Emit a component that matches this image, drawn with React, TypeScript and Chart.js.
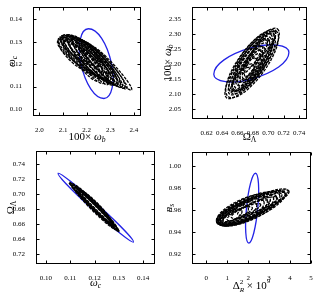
import React, { useEffect, useRef } from "react";
import { Chart, registerables } from "chart.js";
Chart.register(...registerables);

type Pt = [number, number];
type Ell = Pt[]; // four conjugate points: +p, +q, -p, -q

// ---------- Panel 1 (top-left): omega_c vs 100*omega_b ----------
const tlXTicks = [2.0, 2.1, 2.2, 2.3, 2.4];
const tlXLabels = ["2.0", "2.1", "2.2", "2.3", "2.4"];
const tlYTicks = [0.1, 0.11, 0.12, 0.13, 0.14];
const tlYLabels = ["0.10", "0.11", "0.12", "0.13", "0.14"];
const tlBlue: Ell = [[2.207, 0.1358], [2.305, 0.12025], [2.273, 0.1047], [2.175, 0.12025]];
const tlBlack: Ell[] = [
  [[2.25, 0.117], [2.1843, 0.12605], [2.078, 0.1305], [2.1437, 0.12145]],
  [[2.268, 0.115], [2.1982, 0.126], [2.082, 0.1318], [2.1518, 0.1208]],
  [[2.285, 0.114], [2.2107, 0.12585], [2.09, 0.1325], [2.1643, 0.12065]],
  [[2.3, 0.113], [2.2232, 0.1255], [2.1, 0.1328], [2.1768, 0.1203]],
  [[2.315, 0.112], [2.2382, 0.125], [2.115, 0.1328], [2.1918, 0.1198]],
  [[2.33, 0.1108], [2.2528, 0.1238], [2.135, 0.1322], [2.2122, 0.1192]],
  [[2.35, 0.1098], [2.2724, 0.12245], [2.16, 0.1312], [2.2376, 0.11855]],
  [[2.37, 0.109], [2.2945, 0.12103], [2.19, 0.1298], [2.2655, 0.11777]],
  [[2.39, 0.1085], [2.3166, 0.11955], [2.22, 0.128], [2.2934, 0.11695]],
  [[2.26, 0.116], [2.2015, 0.12685], [2.085, 0.1312], [2.1435, 0.12035]],
  [[2.29, 0.1135], [2.2215, 0.1261], [2.095, 0.1322], [2.1635, 0.1196]],
  [[2.31, 0.1125], [2.2336, 0.12548], [2.105, 0.1326], [2.1814, 0.11962]],
  [[2.325, 0.1115], [2.2486, 0.12498], [2.12, 0.1326], [2.1964, 0.11912]],
  [[2.34, 0.1105], [2.2632, 0.12375], [2.14, 0.1318], [2.2168, 0.11855]],
  [[2.36, 0.1095], [2.2853, 0.12228], [2.17, 0.1305], [2.2447, 0.11772]],
  [[2.25, 0.1125], [2.1956, 0.12373], [2.1, 0.1318], [2.1544, 0.12057]],
  [[2.27, 0.1115], [2.2156, 0.12343], [2.12, 0.1322], [2.1744, 0.12027]],
  [[2.29, 0.111], [2.2356, 0.12298], [2.14, 0.1318], [2.1944, 0.11982]],
  [[2.31, 0.1108], [2.2556, 0.12248], [2.16, 0.131], [2.2144, 0.11932]],
  [[2.33, 0.1108], [2.2756, 0.12198], [2.18, 0.13], [2.2344, 0.11882]],
  [[2.2, 0.1215], [2.1616, 0.12705], [2.1, 0.13], [2.1384, 0.12445]],
  [[2.25, 0.119], [2.2016, 0.1253], [2.13, 0.129], [2.1784, 0.1227]],
  [[2.29, 0.116], [2.2416, 0.1228], [2.17, 0.127], [2.2184, 0.1202]],
  [[2.23, 0.1195], [2.1745, 0.12698], [2.09, 0.1312], [2.1455, 0.12372]],
];

// ---------- Panel 2 (top-right): 100*omega_b vs Omega_Lambda ----------
const trXTicks = [0.62, 0.64, 0.66, 0.68, 0.7, 0.72, 0.74];
const trXLabels = ["0.62", "0.64", "0.66", "0.68", "0.70", "0.72", "0.74"];
const trYTicks = [2.05, 2.1, 2.15, 2.2, 2.25, 2.3, 2.35];
const trYLabels = ["2.05", "2.10", "2.15", "2.20", "2.25", "2.30", "2.35"];
const trBlue: Ell = [[0.7268, 2.2392], [0.678, 2.2554], [0.6292, 2.1668], [0.678, 2.1506]];
const trBlack: Ell[] = [
  [[0.712, 2.318], [0.6915, 2.1793], [0.646, 2.088], [0.6665, 2.2267]],
  [[0.706, 2.3], [0.6885, 2.1802], [0.65, 2.1], [0.6675, 2.2198]],
  [[0.7, 2.285], [0.6869, 2.1807], [0.655, 2.112], [0.6681, 2.2163]],
  [[0.703, 2.3], [0.692, 2.1883], [0.658, 2.12], [0.669, 2.2318]],
  [[0.698, 2.27], [0.6884, 2.1842], [0.662, 2.13], [0.6716, 2.2158]],
  [[0.694, 2.258], [0.6868, 2.1852], [0.665, 2.14], [0.6722, 2.2128]],
  [[0.691, 2.245], [0.6858, 2.1856], [0.668, 2.15], [0.6732, 2.2094]],
  [[0.689, 2.235], [0.6842, 2.1886], [0.67, 2.16], [0.6748, 2.2064]],
  [[0.709, 2.31], [0.6878, 2.1962], [0.652, 2.11], [0.6732, 2.2238]],
  [[0.71, 2.312], [0.6936, 2.1743], [0.648, 2.092], [0.6644, 2.2297]],
  [[0.706, 2.305], [0.6926, 2.1793], [0.652, 2.105], [0.6654, 2.2307]],
  [[0.702, 2.29], [0.6915, 2.1788], [0.656, 2.115], [0.6665, 2.2262]],
  [[0.7, 2.28], [0.6905, 2.1852], [0.66, 2.13], [0.6695, 2.2248]],
  [[0.692, 2.26], [0.6832, 2.1951], [0.664, 2.15], [0.6728, 2.2149]],
  [[0.69, 2.25], [0.6816, 2.2041], [0.667, 2.17], [0.6754, 2.2159]],
  [[0.684, 2.22], [0.6772, 2.1701], [0.66, 2.14], [0.6668, 2.1899]],
  [[0.698, 2.28], [0.6902, 2.2251], [0.672, 2.19], [0.6798, 2.2449]],
  [[0.68, 2.2], [0.6733, 2.1431], [0.654, 2.11], [0.6607, 2.1669]],
  [[0.708, 2.31], [0.7003, 2.2531], [0.68, 2.22], [0.6877, 2.2769]],
];

// ---------- Panel 3 (bottom-left): Omega_Lambda vs omega_c ----------
const blXTicks = [0.1, 0.11, 0.12, 0.13, 0.14];
const blXLabels = ["0.10", "0.11", "0.12", "0.13", "0.14"];
const blYTicks = [0.62, 0.64, 0.66, 0.68, 0.7, 0.72, 0.74];
const blYLabels = ["0.72", "0.64", "0.66", "0.68", "0.70", "0.72", "0.74"];
const blBlue: Ell = [[0.136, 0.636], [0.12147, 0.68546], [0.105, 0.728], [0.11953, 0.67854]];
const blBlack: Ell[] = [
  [[0.13, 0.65], [0.12048, 0.68538], [0.1095, 0.716], [0.11902, 0.68063]],
  [[0.1285, 0.656], [0.12062, 0.68685], [0.111, 0.712], [0.11888, 0.68115]],
  [[0.127, 0.661], [0.12087, 0.68635], [0.113, 0.706], [0.11913, 0.68065]],
  [[0.1295, 0.652], [0.12133, 0.6824], [0.112, 0.709], [0.12017, 0.6786]],
  [[0.126, 0.664], [0.12123, 0.68438], [0.115, 0.7], [0.11977, 0.67963]],
  [[0.1295, 0.652], [0.12116, 0.6868], [0.1105, 0.714], [0.11884, 0.6792]],
  [[0.128, 0.658], [0.12102, 0.68733], [0.112, 0.71], [0.11899, 0.68068]],
  [[0.1265, 0.663], [0.12141, 0.6873], [0.114, 0.704], [0.11909, 0.6797]],
  [[0.13, 0.651], [0.12094, 0.68293], [0.111, 0.712], [0.12007, 0.68008]],
  [[0.128, 0.657], [0.12079, 0.68295], [0.113, 0.707], [0.12021, 0.68105]],
  [[0.1275, 0.659], [0.11933, 0.6884], [0.11, 0.714], [0.11817, 0.6846]],
  [[0.13, 0.651], [0.12233, 0.6799], [0.1135, 0.705], [0.12117, 0.6761]],
];

// ---------- Panel 4 (bottom-right): n_s vs Delta^2_R x 1e9 ----------
const brXTicks = [0, 1, 2, 3, 4, 5];
const brXLabels = ["0", "1", "2", "3", "4", "5"];
const brYTicks = [0.92, 0.94, 0.96, 0.98, 1.0];
const brYLabels = ["0.92", "0.94", "0.96", "0.98", "1.00"];
const brBlue: Ell = [[2.35, 0.99315], [2.46, 0.9615], [2.03, 0.92985], [1.92, 0.9615]];
const brBlack: Ell[] = [
  [[2.0, 0.962], [1.3937, 0.94976], [0.5, 0.949], [1.1063, 0.96124]],
  [[2.4, 0.965], [1.6242, 0.95019], [0.52, 0.9485], [1.2958, 0.96331]],
  [[2.75, 0.9675], [1.8348, 0.95037], [0.55, 0.948], [1.4652, 0.96513]],
  [[3.05, 0.97], [1.9998, 0.95162], [0.58, 0.948], [1.6302, 0.96638]],
  [[3.35, 0.972], [2.1698, 0.95262], [0.62, 0.948], [1.8002, 0.96738]],
  [[3.6, 0.974], [2.3148, 0.95372], [0.66, 0.9482], [1.9452, 0.96848]],
  [[3.8, 0.9755], [2.4142, 0.95544], [0.7, 0.9485], [2.0858, 0.96856]],
  [[3.95, 0.977], [2.4937, 0.95726], [0.75, 0.949], [2.2063, 0.96874]],
  [[3.2, 0.9715], [2.0758, 0.95098], [0.5, 0.9485], [1.6242, 0.96902]],
  [[3.5, 0.9735], [2.2758, 0.95183], [0.6, 0.9482], [1.8242, 0.96987]],
  [[2.9, 0.969], [1.9303, 0.95055], [0.55, 0.9485], [1.5197, 0.96695]],
  [[3.75, 0.975], [2.4303, 0.9537], [0.7, 0.9488], [2.0197, 0.9701]],
  [[3.9, 0.9775], [2.5142, 0.95694], [0.8, 0.9495], [2.1858, 0.97006]],
  [[2.2, 0.962], [1.4821, 0.95222], [0.6, 0.949], [1.3179, 0.95878]],
  [[2.6, 0.965], [1.7821, 0.95422], [0.8, 0.95], [1.6179, 0.96078]],
  [[3.0, 0.968], [2.1027, 0.9554], [1.0, 0.951], [1.8973, 0.9636]],
  [[3.4, 0.971], [2.4027, 0.9579], [1.2, 0.953], [2.1973, 0.9661]],
  [[1.7, 0.959], [1.2277, 0.95015], [0.55, 0.9495], [1.0223, 0.95835]],
  [[3.8, 0.975], [2.7527, 0.9614], [1.5, 0.956], [2.5473, 0.9696]],
];

// ---------- styling / layout ----------
const SERIF = '"Liberation Serif", "DejaVu Serif", serif';
const BLUE = "#2323e6";
const W = 160;
const H = 150;

interface Part { t: string; it?: boolean; dy?: number; s?: number; stay?: boolean }

interface PanelCfg {
  left: number; top: number;
  frame: { l: number; t: number; r: number; b: number };
  xMin: number; xMax: number; yMin: number; yMax: number;
  xTicks: number[]; xLabels: string[]; yTicks: number[]; yLabels: string[];
  blue: Ell; black: Ell[];
  xTitle: Part[]; yTitle: Part[]; xTitleDy: number; yTitleDx: number;
}

const omegaB: Part[] = [{ t: "100\u00d7 " }, { t: "\u03c9", it: true }, { t: "b", it: true, s: 0.7, dy: 0.3 }];
const omegaC: Part[] = [{ t: "\u03c9", it: true }, { t: "c", it: true, s: 0.7, dy: 0.3 }];
const omegaL: Part[] = [{ t: "\u03a9" }, { t: "\u039b", s: 0.7, dy: 0.3 }];
const deltaR: Part[] = [
  { t: "\u0394" },
  { t: "2", s: 0.65, dy: -0.35, stay: true },
  { t: "R", it: true, s: 0.65, dy: 0.35 },
  { t: " \u00d7 10" },
  { t: "9", s: 0.65, dy: -0.4 },
];
const nS: Part[] = [{ t: "n", it: true }, { t: "s", it: true, s: 0.7, dy: 0.3 }];

const panels: PanelCfg[] = [
  {
    left: 0, top: 0, frame: { l: 33, t: 7, r: 141, b: 116 },
    xMin: 1.9725, xMax: 2.4297, yMin: 0.0969, yMax: 0.1455,
    xTicks: tlXTicks, xLabels: tlXLabels, yTicks: tlYTicks, yLabels: tlYLabels,
    blue: tlBlue, black: tlBlack, xTitle: omegaB, yTitle: omegaC, xTitleDy: 21, yTitleDx: 21,
  },
  {
    left: 160, top: 0, frame: { l: 32, t: 7, r: 147, b: 119 },
    xMin: 0.6009, xMax: 0.7503, yMin: 2.0177, yMax: 2.391,
    xTicks: trXTicks, xLabels: trXLabels, yTicks: trYTicks, yLabels: trYLabels,
    blue: trBlue, black: trBlack, xTitle: omegaL, yTitle: omegaB, xTitleDy: 18, yTitleDx: 24,
  },
  {
    left: 0, top: 150, frame: { l: 36, t: 1, r: 155, b: 114 },
    xMin: 0.0959, xMax: 0.1449, yMin: 0.6066, yMax: 0.7578,
    xTicks: blXTicks, xLabels: blXLabels, yTicks: blYTicks, yLabels: blYLabels,
    blue: blBlue, black: blBlack, xTitle: omegaC, yTitle: omegaL, xTitleDy: 19, yTitleDx: 25,
  },
  {
    left: 160, top: 150, frame: { l: 32, t: 2, r: 151, b: 114 },
    xMin: -0.68, xMax: 5.0, yMin: 0.9109, yMax: 1.0124,
    xTicks: brXTicks, xLabels: brXLabels, yTicks: brYTicks, yLabels: brYLabels,
    blue: brBlue, black: brBlack, xTitle: deltaR, yTitle: nS, xTitleDy: 22, yTitleDx: 23,
  },
];

function drawParts(ctx: CanvasRenderingContext2D, parts: Part[], cx: number, cy: number, size: number, rotate: boolean) {
  ctx.save();
  ctx.translate(cx, cy);
  if (rotate) ctx.rotate(-Math.PI / 2);
  const fontOf = (p: Part) => `${p.it ? "italic " : ""}${(p.s ?? 1) * size}px ${SERIF}`;
  let w = 0;
  for (const p of parts) {
    ctx.font = fontOf(p);
    if (!p.stay) w += ctx.measureText(p.t).width;
  }
  let x = -w / 2;
  ctx.textBaseline = "middle";
  ctx.textAlign = "left";
  ctx.fillStyle = "#000";
  for (const p of parts) {
    ctx.font = fontOf(p);
    ctx.fillText(p.t, x, (p.dy ?? 0) * size);
    if (!p.stay) x += ctx.measureText(p.t).width;
  }
  ctx.restore();
}

function ellDataset(e: Ell, color: string, dash: number[], width: number) {
  const seq = [e[3], e[0], e[1], e[2], e[3], e[0], e[1]];
  return {
    data: seq.map(([x, y]) => ({ x, y })),
    showLine: true,
    borderColor: color,
    borderWidth: width,
    borderDash: dash,
    pointRadius: 0,
    tension: 0.5523,
    fill: false,
    segment: {
      borderColor: (c: any) => (c.p0DataIndex === 0 || c.p0DataIndex === 5 ? "rgba(0,0,0,0)" : color),
    },
  };
}

function axisOpts(min: number, max: number, ticks: number[], labels: string[], fit: (s: any) => void, pad: number) {
  return {
    type: "linear",
    min,
    max,
    grid: { display: false },
    border: { display: false },
    ticks: {
      autoSkip: false,
      maxRotation: 0,
      minRotation: 0,
      padding: pad,
      color: "#000",
      font: { family: SERIF, size: 7 },
      callback: (_v: any, i: number) => labels[i],
    },
    afterBuildTicks: (s: any) => {
      s.ticks = ticks.map((v) => ({ value: v }));
    },
    afterFit: (s: any) => {
      fit(s);
      s.paddingLeft = 0;
      s.paddingRight = 0;
      s.paddingTop = 0;
      s.paddingBottom = 0;
    },
  };
}

function makeConfig(p: PanelCfg): any {
  const datasets = [
    ...p.black.map((e) => ellDataset(e, "#000", [3, 1.2], 1.3)),
    ellDataset(p.blue, BLUE, [], 1.3),
  ];
  const framePlugin = {
    id: "frameAndTitles",
    afterDraw(chart: any) {
      const { ctx, chartArea: a, scales } = chart;
      const L = Math.round(a.left) + 0.5;
      const R = Math.round(a.right) - 0.5;
      const T = Math.round(a.top) + 0.5;
      const B = Math.round(a.bottom) - 0.5;
      ctx.save();
      ctx.strokeStyle = "#000";
      ctx.lineWidth = 1;
      ctx.setLineDash([]);
      ctx.strokeRect(L, T, R - L, B - T);
      ctx.beginPath();
      const tl = 3;
      for (const v of p.xTicks) {
        const x = Math.round(scales.x.getPixelForValue(v)) + 0.5;
        ctx.moveTo(x, B); ctx.lineTo(x, B - tl);
        ctx.moveTo(x, T); ctx.lineTo(x, T + tl);
      }
      for (const v of p.yTicks) {
        const y = Math.round(scales.y.getPixelForValue(v)) + 0.5;
        ctx.moveTo(L, y); ctx.lineTo(L + tl, y);
        ctx.moveTo(R, y); ctx.lineTo(R - tl, y);
      }
      ctx.stroke();
      ctx.restore();
      drawParts(ctx, p.xTitle, (a.left + a.right) / 2, a.bottom + p.xTitleDy, 11, false);
      drawParts(ctx, p.yTitle, a.left - p.yTitleDx, (a.top + a.bottom) / 2, 11, true);
    },
  };
  return {
    type: "scatter",
    data: { datasets },
    options: {
      animation: false,
      responsive: false,
      events: [],
      layout: { padding: { top: p.frame.t, right: W - p.frame.r, left: 0, bottom: 0 } },
      plugins: { legend: { display: false }, tooltip: { enabled: false } },
      scales: {
        x: axisOpts(p.xMin, p.xMax, p.xTicks, p.xLabels, (s) => { s.height = H - p.frame.b; }, 2),
        y: axisOpts(p.yMin, p.yMax, p.yTicks, p.yLabels, (s) => { s.width = p.frame.l; }, 3),
      },
    },
    plugins: [framePlugin],
  };
}

function Panel({ cfg }: { cfg: PanelCfg }) {
  const ref = useRef<HTMLCanvasElement>(null);
  useEffect(() => {
    const chart = new Chart(ref.current as HTMLCanvasElement, makeConfig(cfg));
    return () => chart.destroy();
  }, [cfg]);
  return (
    <canvas
      ref={ref}
      width={W}
      height={H}
      style={{ position: "absolute", left: cfg.left, top: cfg.top, width: W, height: H }}
    />
  );
}

export default function App() {
  return (
    <div style={{ position: "absolute", left: 0, top: 0, width: 320, height: 300, background: "#fff" }}>
      {panels.map((p, i) => (
        <Panel key={i} cfg={p} />
      ))}
    </div>
  );
}
